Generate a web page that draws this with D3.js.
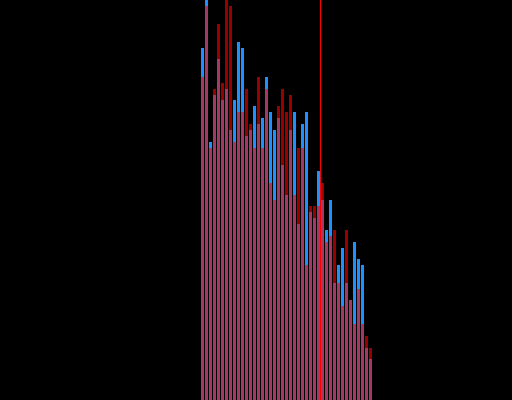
<!DOCTYPE html>
<html>
<head>
<meta charset="utf-8">
<script src="https://cdn.jsdelivr.net/npm/d3@7"></script>
<style>
  body { margin: 0; background: #000; overflow: hidden; }
  svg { display: block; }
</style>
</head>
<body>
<div id="chart"></div>
<script>
// Histogram data: two overlapping samples, one count per bin.
var binStart = 50;          // left edge of the first bin
var binWidth = 1;
var blueCounts = [35.2, 42, 25.8, 30.5, 34.1, 30.0, 31.1, 27.0, 30.0, 35.8,
                  35.2, 26.4, 27.0, 29.4, 27.6, 28.2, 32.3, 28.8, 27.0, 28.2,
                  23.5, 20.5, 27.0, 28.8, 17.6, 27.6, 28.8, 18.8, 18.2, 22.9,
                  20.0, 17.0, 20.0, 11.7, 13.5, 15.2, 11.7, 10.0, 15.8, 14.1,
                  13.5, 5.2, 4.1];
var redCounts  = [32.3, 39.4, 25.2, 31.1, 37.6, 31.7, 41, 39.4, 25.8, 28.8,
                  28.8, 31.1, 27.6, 25.2, 32.3, 25.2, 31.1, 21.7, 20.0, 29.4,
                  31.1, 28.8, 30.5, 20.5, 25.2, 25.2, 13.5, 19.4, 19.4, 19.4,
                  21.7, 15.8, 16.4, 17.0, 11.7, 9.4, 17.0, 10.0, 7.6, 11.1,
                  7.6, 6.4, 5.2];
var markerValue = 80;       // vertical reference line

var width = 512, height = 400;

var x = d3.scaleLinear().domain([0, 128]).range([0, width]);
var y = d3.scaleLinear().domain([0, 40]).range([height, 0]);

function toBins(counts) {
    return counts.map(function(c, i) {
        var x0 = binStart + i * binWidth;
        return { x0: x0, x1: x0 + binWidth, count: c };
    });
}

var svg = d3.select("#chart").append("svg")
    .attr("width", width)
    .attr("height", height);

function drawBars(bins, color, opacity) {
    svg.append("g")
        .selectAll("rect")
        .data(bins)
        .enter().append("rect")
        .attr("x", function(d) { return x(d.x0) + 1; })
        .attr("width", function(d) { return x(d.x1) - x(d.x0) - 1; })
        .attr("y", function(d) { return y(d.count); })
        .attr("height", function(d) { return y(0) - y(d.count); })
        .style("fill", color)
        .style("opacity", opacity)
        .attr("shape-rendering", "crispEdges");
}

drawBars(toBins(blueCounts), "#1e90ff", 1);
drawBars(toBins(redCounts), "#ff0000", 0.6);

// Marker line
svg.append("line")
    .attr("x1", x(markerValue) + 0.5)
    .attr("x2", x(markerValue) + 0.5)
    .attr("y1", 0)
    .attr("y2", height)
    .style("stroke", "#ff0000")
    .style("stroke-width", 1);
</script>
</body>
</html>
